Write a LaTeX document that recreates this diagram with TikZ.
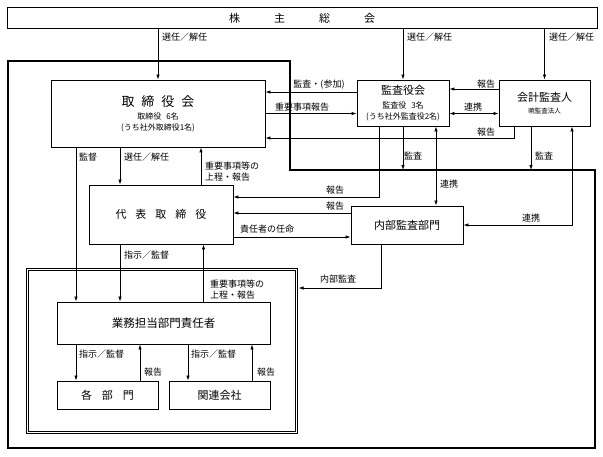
\documentclass[tikz,border=0pt]{standalone}
\usepackage{fontspec}
\setmainfont{Noto Sans CJK JP}
\usetikzlibrary{positioning,arrows.meta}
\tikzset{
  every node/.style={
    inner sep=0pt,
    font=\fontsize{9}{11}\selectfont
  },
  box/.style={draw, line width=0.9pt},
  arr/.style={line width=0.8pt, -{Latex[length=5pt,width=3.5pt]}},
  dbl/.style={line width=0.8pt, {Latex[length=5pt,width=3.5pt]}-{Latex[length=5pt,width=3.5pt]}},
  lbl/.style={anchor=west}
}

\begin{document}
\begin{tikzpicture}[x=1pt,y=-1pt]
      \useasboundingbox (0,0) rectangle (603,456);
      % company outline
      \draw[line width=1.8pt] (8,61) -- (290,61) -- (290,170) -- (595,170) -- (595,448) -- (8,448) -- cycle;
      \coordinate (Ledge) at (290,170);

      \node[box, minimum width=590pt, minimum height=21pt,
      font=\fontsize{11}{13}\selectfont] (Kabu) at (302,18)
      {株\hspace{34pt}主\hspace{34pt}総\hspace{34pt}会};
      \node[box, minimum width=214pt, minimum height=67pt, align=center] (Board) at (158,113.5)
      {{\fontsize{13}{16}\selectfont 取\hspace{7pt}締\hspace{7pt}役\hspace{7pt}会}\\[2pt]
      {\fontsize{8}{10}\selectfont 取締役\hspace{5pt}6名}\\
      {\fontsize{8}{10}\selectfont (うち社外取締役1名)}};
      \node[box, minimum width=92pt, minimum height=46pt, align=center] (Audit) at (403,103)
      {{\fontsize{11}{13}\selectfont 監査役会}\\[3pt]
      {\fontsize{8}{10}\selectfont 監査役\hspace{5pt}3名}\\
      {\fontsize{8}{10}\selectfont (うち社外監査役2名)}};
      \node[box, minimum width=91pt, minimum height=46pt, align=center] (Acct) at (544.5,103)
      {{\fontsize{11}{13}\selectfont 会計監査人}\\[1pt]
      {\fontsize{6.5}{8}\selectfont 暁監査法人}};
      \node[box, minimum width=144pt, minimum height=59pt,
      font=\fontsize{11}{13}\selectfont] (Rep) at (161,214.5)
      {代\hspace{9pt}表\hspace{9pt}取\hspace{9pt}締\hspace{9pt}役};
      \node[box, minimum width=112pt, minimum height=38pt,
      font=\fontsize{11}{13}\selectfont] (Inner) at (407,225) {内部監査部門};
      \node[draw, double, line width=0.8pt, double distance=1.6pt,
      minimum width=269pt, minimum height=163pt] (Group) at (162,351) {};
      \node[box, minimum width=213pt, minimum height=42pt,
      font=\fontsize{11.5}{13}\selectfont] (Head) at (163.5,323) {業務担当部門責任者};
      \node[box, minimum width=101pt, minimum height=28pt,
      font=\fontsize{11}{13}\selectfont] (Dept) at (107.5,395)
      {各\hspace{10pt}部\hspace{10pt}門};
      \node[box, minimum width=101pt, minimum height=28pt,
      font=\fontsize{11}{13}\selectfont] (Affil) at (219.5,395) {関連会社};

      % shareholders
      \draw[arr] (Kabu.south -| Board.north) -- (Board.north);
      \draw[arr] (Kabu.south -| Audit.north) -- (Audit.north);
      \draw[arr] (Kabu.south -| Acct.north) -- (Acct.north);
      \node[lbl] (S1) at (162,37) {選任／解任};
      \node[lbl] (S2) at (407,37) {選任／解任};
      \node[lbl] (S3) at (549,37) {選任／解任};

      % board and auditors
      \draw[arr] ([yshift=11pt]Audit.west) -- ([yshift=11pt]Audit.west -| Board.east);
      \draw[arr] (Board.east) -- (Board.east -| Audit.west);
      \draw[arr] ([yshift=14pt]Acct.west) -- ([yshift=14pt]Acct.west -| Audit.east);
      \draw[dbl] (Acct.west |- Board.east) -- (Audit.east |- Board.east);
      \draw[arr] ([xshift=-30.5pt]Acct.south) |- ([yshift=-24.5pt]Board.east);
      \node (L1) at (319,85) {監査・(参加)};
      \node (L2) at (302,107) {重要事項報告};
      \node (L3) at (486,84) {報告};
      \node (L4) at (473,107) {連携};
      \node (L5) at (486,132) {報告};

      % audit lines
      \draw[arr] (Audit.south) -- (Audit.south |- Ledge);
      \draw[arr] ([xshift=-13.5pt]Acct.south) -- ([xshift=-13.5pt]Acct.south |- Ledge);
      \node[lbl] (M1) at (404,156) {監査};
      \node[lbl] (M2) at (535,156) {監査};
      \draw[arr] ([xshift=-24pt]Audit.south) |- ([yshift=17.5pt]Rep.east);
      \draw[dbl] ([xshift=33pt]Audit.south) -- ([xshift=33pt]Audit.south |- Inner.north);
      \draw[dbl] ([xshift=27.5pt]Acct.south) |- (Inner.east);
      \draw[arr] ([yshift=12pt]Inner.west) -- ([yshift=12pt]Inner.west -| Rep.east);
      \draw[arr] ([yshift=-22.5pt]Rep.east) -- ([yshift=-22.5pt]Rep.east -| Inner.west);
      \draw[arr] ([xshift=-26pt]Inner.south) |- ([xshift=1.6pt,yshift=63pt]Group.east);
      \node (R1) at (335,190) {報告};
      \node (R2) at (335,206) {報告};
      \node[lbl] (C1) at (440,184) {連携};
      \node (C2) at (531,218) {連携};
      \node[lbl] (Apt) at (240,229) {責任者の任命};
      \node (IA) at (338,279) {内部監査};

      % board down to the business side
      \draw[arr] ([xshift=-82pt]Board.south) -- ([xshift=-82pt]Board.south |- Head.north);
      \draw[arr] ([xshift=-38pt]Board.south) -- ([xshift=-38pt]Board.south |- Rep.north);
      \draw[arr] ([xshift=40pt]Rep.north) -- ([xshift=40pt]Rep.north |- Board.south);
      \draw[arr] ([xshift=-41pt]Rep.south) -- ([xshift=-41pt]Rep.south |- Head.north);
      \draw[arr] ([xshift=40pt]Head.north) -- ([xshift=40pt]Head.north |- Rep.south);
      \node[lbl] (Sup) at (79,157) {監督};
      \node[lbl] (S4) at (124,157) {選任／解任};
      \node[lbl, align=left] (Up1) at (205,171.5) {重要事項等の\\上程・報告};
      \node[lbl] (D1) at (124,255) {指示／監督};
      \node[lbl, align=left] (Up2) at (210,289.5) {重要事項等の\\上程・報告};

      % departments
      \draw[arr] ([xshift=-31.5pt]Dept.north |- Head.south) -- ([xshift=-31.5pt]Dept.north);
      \draw[arr] ([xshift=32.5pt]Dept.north) -- ([xshift=32.5pt]Dept.north |- Head.south);
      \draw[arr] ([xshift=-31.5pt]Affil.north |- Head.south) -- ([xshift=-31.5pt]Affil.north);
      \draw[arr] ([xshift=32.5pt]Affil.north) -- ([xshift=32.5pt]Affil.north |- Head.south);
      \node[lbl] (D2) at (79,354) {指示／監督};
      \node[lbl] (D3) at (191,354) {指示／監督};
      \node[lbl] (R3) at (144,372) {報告};
      \node[lbl] (R4) at (257,372) {報告};
\end{tikzpicture}
\end{document}
